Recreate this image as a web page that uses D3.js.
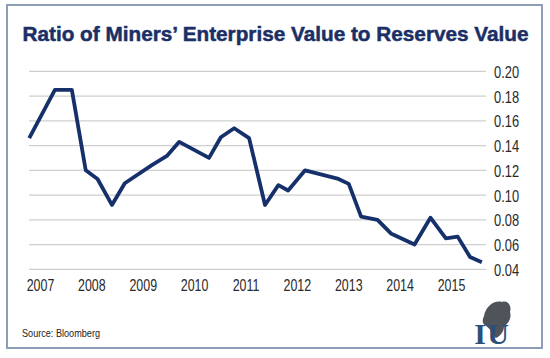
<!DOCTYPE html>
<html>
<head>
<meta charset="utf-8">
<script src="https://cdn.jsdelivr.net/npm/d3@7"></script>
<style>
  html, body { margin: 0; padding: 0; background: #ffffff; }
  svg { display: block; }
</style>
</head>
<body>
<div id="chart"></div>
<script>
// ---- data ----
const title = "Ratio of Miners\u2019 Enterprise Value to Reserves Value";
const source = "Source: Bloomberg";
const years = [2007, 2008, 2009, 2010, 2011, 2012, 2013, 2014, 2015];
const yTicks = [0.04, 0.06, 0.08, 0.10, 0.12, 0.14, 0.16, 0.18, 0.20];
const dates = [2006.79, 2007.29, 2007.62, 2007.89, 2008.12, 2008.40, 2008.65, 2009.17, 2009.47,
  2009.71, 2010.29, 2010.52, 2010.78, 2011.07, 2011.38, 2011.64, 2011.83, 2012.16, 2012.81,
  2013.01, 2013.25, 2013.57, 2013.83, 2014.29, 2014.60, 2014.90, 2015.13, 2015.37, 2015.60];
const ratios = [0.146, 0.185, 0.185, 0.120, 0.113, 0.092, 0.1095, 0.124, 0.1316,
  0.143, 0.130, 0.1467, 0.154, 0.146, 0.092, 0.108, 0.1037, 0.120, 0.113,
  0.109, 0.0825, 0.080, 0.069, 0.060, 0.0817, 0.065, 0.0664, 0.050, 0.0457];

const W = 550, H = 358;
const navy = "#15306a";
const font = "'Liberation Sans', Arial, sans-serif";

const svg = d3.select("#chart").append("svg")
  .attr("width", W).attr("height", H);

// frame
svg.append("rect")
  .attr("x", 7).attr("y", 5).attr("width", 535).attr("height", 343)
  .attr("fill", "#fff").attr("stroke", "#8d9db6").attr("stroke-width", 2);

// title
svg.append("text")
  .attr("x", 22.5).attr("y", 41)
  .attr("font-family", font)
  .attr("font-weight", "bold")
  .attr("font-size", 20.5)
  .attr("fill", "#1b2f66")
  .attr("stroke", "#1b2f66")
  .attr("stroke-width", 0.5)
  .attr("textLength", 506)
  .attr("lengthAdjust", "spacingAndGlyphs")
  .text(title);

// scales
const x = d3.scaleLinear().domain([2007, 2015]).range([40, 451]);
const y = d3.scaleLinear().domain([0.04, 0.20]).range([269.3, 71.3]);
const gridX0 = 29, gridX1 = 486;

// gridlines
svg.append("g").selectAll("line").data(yTicks).join("line")
  .attr("x1", gridX0).attr("x2", gridX1)
  .attr("y1", d => y(d)).attr("y2", d => y(d))
  .attr("stroke", "#cfcfcf").attr("stroke-width", 1.2);

// y axis (right side), labels only
const yAxis = d3.axisRight(y).tickValues(yTicks).tickFormat(d3.format(".2f")).tickSize(0).tickPadding(0);
const gy = svg.append("g").attr("transform", "translate(494,0)").call(yAxis);
gy.select(".domain").remove();
gy.selectAll("text")
  .attr("font-family", font)
  .attr("font-size", 17)
  .attr("fill", "#2a2a2a")
  .attr("dy", "0.35em")
  .attr("transform", "scale(0.76,1)");

// x axis labels
const xAxis = d3.axisBottom(x).tickValues(years).tickFormat(d3.format("d")).tickSize(0).tickPadding(0);
const gx = svg.append("g").attr("transform", "translate(0,279)").call(xAxis);
gx.select(".domain").remove();
gx.selectAll("text")
  .attr("font-family", font)
  .attr("font-size", 17)
  .attr("fill", "#2a2a2a")
  .attr("dy", "0.71em")
  .attr("transform", "scale(0.73,1)");

// line
const pts = dates.map((d, i) => [d, ratios[i]]);
svg.append("path")
  .datum(pts)
  .attr("fill", "none")
  .attr("stroke", navy)
  .attr("stroke-width", 3.8)
  .attr("stroke-linejoin", "round")
  .attr("d", d3.line().x(d => x(d[0])).y(d => y(d[1])));

// source
svg.append("text")
  .attr("x", 22).attr("y", 337)
  .attr("font-family", font)
  .attr("font-size", 11)
  .attr("fill", "#222")
  .attr("textLength", 78)
  .attr("lengthAdjust", "spacingAndGlyphs")
  .text(source);

// logo approximation
const logo = svg.append("g").attr("transform", "translate(468,296)");
logo.append("path")
  .attr("d", "M16,20 C18,10 26,4 34,6 C40,4 44,10 42,16 C44,22 40,28 36,30 C36,36 32,40 28,42 C24,38 22,32 18,30 C14,28 14,24 16,20 Z")
  .attr("fill", "#4f545a");
logo.append("text")
  .attr("x", 12).attr("y", 48)
  .attr("font-family", "'Liberation Serif', serif")
  .attr("font-weight", "bold")
  .attr("font-size", 30)
  .attr("text-anchor", "middle")
  .attr("fill", "#2b4f78")
  .text("I");
logo.append("text")
  .attr("x", 30).attr("y", 48)
  .attr("font-family", "'Liberation Serif', serif")
  .attr("font-weight", "bold")
  .attr("font-size", 30)
  .attr("text-anchor", "middle")
  .attr("fill", "#2b4f78")
  .text("U");
</script>
</body>
</html>
